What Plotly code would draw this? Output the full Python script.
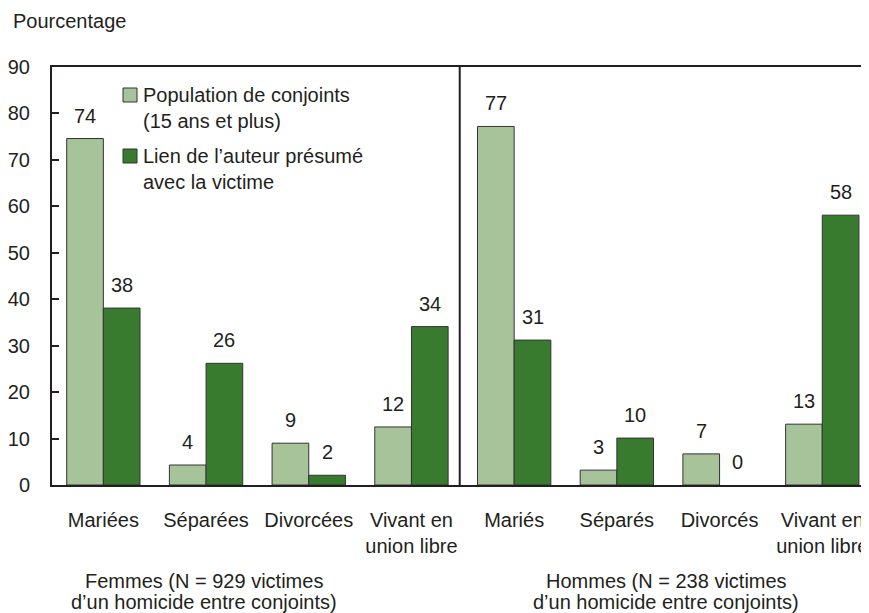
import plotly.graph_objects as go

# Data
categories = ["Mariées", "Séparées", "Divorcées", "Vivant en<br>union libre",
              "Mariés", "Séparés", "Divorcés", "Vivant en<br>union libre"]
population = [74.6, 4.3, 9.0, 12.5, 77.2, 3.2, 6.7, 13.1]
population_labels = ["74", "4", "9", "12", "77", "3", "7", "13"]
auteur = [38.1, 26.2, 2.1, 34.1, 31.2, 10.1, 0, 58.1]
auteur_labels = ["38", "26", "2", "34", "31", "10", "0", "58"]
series_names = ["Population de conjoints<br>(15 ans et plus)",
                "Lien de l’auteur présumé<br>avec la victime"]
group_titles = [("Femmes (N = 929 victimes", "d’un homicide entre conjoints)"),
                ("Hommes (N = 238 victimes", "d’un homicide entre conjoints)")]
y_title = "Pourcentage"
y_ticks = [0, 10, 20, 30, 40, 50, 60, 70, 80, 90]

LIGHT = "#a7c39a"
DARK = "#387a2e"
INK = "#231f20"
FONT = "Liberation Sans, Arial, sans-serif"
FS = 20

# page body has an 8px margin: build the figure so that it lands on the window
OFF = 8
W, H = 869 - OFF, 613 - OFF
ML, MR = 52 - OFF, 0
MT = 67 - OFF
MB = H - (485 - OFF)
PW, PH = W - ML - MR, H - MT - MB

def px(x):  # window pixel -> paper
    return (x - OFF - ML) / PW

def py(y):
    return (H - MB - (y - OFF)) / PH

xpos = list(range(len(categories)))

fig = go.Figure()
fig.add_bar(x=xpos, y=population, name="pop",
            marker=dict(color=LIGHT, line=dict(color="#333333",
                                               width=[1 if v > 0 else 0 for v in population])),
            showlegend=False, hoverinfo="skip")
fig.add_bar(x=xpos, y=auteur, name="aut",
            marker=dict(color=DARK, line=dict(color="#333333",
                                              width=[1 if v > 0 else 0 for v in auteur])),
            showlegend=False, hoverinfo="skip")

bar_half = 18.35
annotations = []
for i in xpos:
    annotations.append(dict(x=i, y=population[i], text=population_labels[i], xref="x", yref="y",
                            xshift=-bar_half, yshift=23, showarrow=False, yanchor="middle",
                            font=dict(size=FS, color=INK, family=FONT)))
    annotations.append(dict(x=i, y=auteur[i], text=auteur_labels[i], xref="x", yref="y",
                            xshift=bar_half, yshift=23, showarrow=False, yanchor="middle",
                            font=dict(size=FS, color=INK, family=FONT)))

# Legend (drawn manually)
legend_rows = [(series_names[0], LIGHT, 95), (series_names[1], DARK, 156)]
shapes = []
for name, col, yc in legend_rows:
    shapes.append(dict(type="rect", xref="paper", yref="paper",
                       x0=px(123), x1=px(137), y0=py(yc + 7), y1=py(yc - 7),
                       fillcolor=col, line=dict(color="#333333", width=1)))
    l1, l2 = name.split("<br>")
    annotations.append(dict(x=px(141), y=py(yc), xref="paper", yref="paper", text=l1,
                            xanchor="left", yanchor="middle", showarrow=False,
                            font=dict(size=FS, color=INK, family=FONT)))
    annotations.append(dict(x=px(141), y=py(yc + 26), xref="paper", yref="paper", text=l2,
                            xanchor="left", yanchor="middle", showarrow=False,
                            font=dict(size=FS, color=INK, family=FONT)))

# Group titles
for (l1, l2), cx in zip(group_titles, [204, 666]):
    annotations.append(dict(x=px(cx), y=py(581), xref="paper", yref="paper", text=l1,
                            xanchor="center", yanchor="middle", showarrow=False,
                            font=dict(size=FS, color=INK, family=FONT)))
    annotations.append(dict(x=px(cx), y=py(602), xref="paper", yref="paper", text=l2,
                            xanchor="center", yanchor="middle", showarrow=False,
                            font=dict(size=FS, color=INK, family=FONT)))

# Y axis title
annotations.append(dict(x=px(11), y=py(21), xref="paper", yref="paper", text=y_title,
                        xanchor="left", yanchor="middle", showarrow=False,
                        font=dict(size=FS, color=INK, family=FONT)))

# Divider between women and men
shapes.append(dict(type="line", xref="x", yref="paper", x0=3.47, x1=3.47, y0=0, y1=1,
                   line=dict(color=INK, width=2)))

fig.update_layout(
    width=W, height=H,
    margin=dict(l=ML, r=MR, t=MT, b=MB, autoexpand=False),
    paper_bgcolor="white", plot_bgcolor="white",
    barmode="group", bargap=0.286, bargroupgap=0,
    font=dict(family=FONT, size=FS, color=INK),
    annotations=annotations, shapes=shapes,
    showlegend=False,
)
fig.update_xaxes(range=[-0.5, 7.455], tickmode="array", tickvals=xpos, ticktext=categories,
                 showline=True, linecolor=INK, linewidth=2, mirror=True,
                 showgrid=False, zeroline=False, ticks="", ticklabelstandoff=16,
                 ticklabeloverflow="allow", automargin=False,
                 tickfont=dict(size=FS, color=INK, family=FONT))
fig.update_yaxes(range=[0, 90], tickmode="array", tickvals=y_ticks,
                 showline=True, linecolor=INK, linewidth=2,
                 showgrid=False, zeroline=False, ticks="inside", ticklen=7, tickwidth=2,
                 tickcolor=INK, ticklabelstandoff=16, automargin=False,
                 tickfont=dict(size=FS, color=INK, family=FONT))

fig.write_html("out.html")
